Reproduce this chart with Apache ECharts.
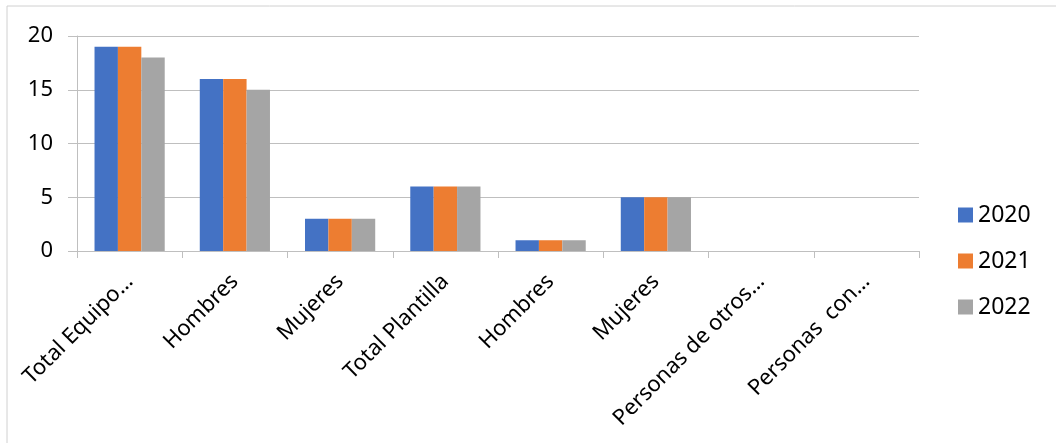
<!DOCTYPE html>
<html><head><meta charset="utf-8">
<script src="https://cdn.jsdelivr.net/npm/echarts@6/dist/echarts.min.js"></script>
<style>html,body{margin:0;padding:0;background:#fff}#c{width:1056px;height:443px}</style>
</head><body><div id="c"></div>
<script>
const categories = ['Total Equipo…','Hombres','Mujeres','Total Plantilla','Hombres','Mujeres','Personas de otros…','Personas  con…'];
const seriesNames = ['2020','2021','2022'];
const values2020 = [19,16,3,6,1,5,0,0];
const values2021 = [19,16,3,6,1,5,0,0];
const values2022 = [18,15,3,6,1,5,0,0];
const yTicks = [0,5,10,15,20];
const colors = ['#4472C4','#ED7D31','#A5A5A5'];
const font = 'Noto Sans';
const chart = echarts.init(document.getElementById('c'));
const allValues = [values2020, values2021, values2022];
chart.setOption({
  animation:false,
  color:colors,
  graphic:[{type:'rect',shape:{x:7,y:6,width:1060,height:450},style:{fill:'none',stroke:'#d0d0d0',lineWidth:1},silent:true,z:-1}],
  grid:{left:77,right:137,top:36,bottom:192,containLabel:false},
  legend:{orient:'vertical',left:953,top:198,itemWidth:15,itemHeight:15,itemGap:22,
    icon:'rect',textStyle:{fontFamily:font,fontSize:23,lineHeight:24,color:'#000',padding:[0,0,0,0]},
    data:seriesNames},
  xAxis:{type:'category',data:categories,
    axisLine:{lineStyle:{color:'#bfbfbf',width:1}},
    axisTick:{show:true,alignWithLabel:false,length:7,lineStyle:{color:'#bfbfbf'}},
    axisLabel:{rotate:45,interval:0,fontFamily:font,fontSize:22,color:'#000',margin:27}},
  yAxis:{type:'value',min:yTicks[0],max:yTicks[yTicks.length-1],interval:5,
    axisLine:{show:true,lineStyle:{color:'#bfbfbf'}},
    axisTick:{show:true,length:9,lineStyle:{color:'#bfbfbf'}},
    splitLine:{lineStyle:{color:'#bfbfbf'}},
    axisLabel:{fontFamily:font,fontSize:22,color:'#000',margin:24}},
  series:seriesNames.map((n,i)=>({name:n,type:'bar',data:allValues[i],barGap:'0%',barCategoryGap:'33.3%'}))
});
</script></body></html>
